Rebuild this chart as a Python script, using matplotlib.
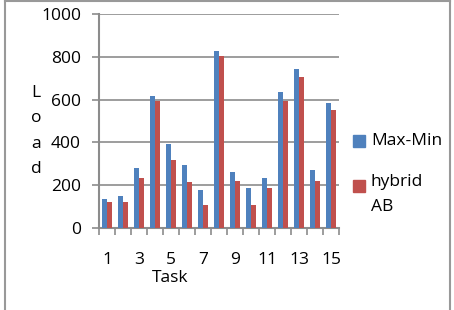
import numpy as np
import matplotlib.pyplot as plt
from matplotlib.lines import Line2D
from matplotlib.patches import Rectangle

tasks = list(range(1, 16))
max_min = [134, 148, 280, 618, 391, 296, 178, 826, 260, 187, 235, 636, 745, 270, 586]
hybrid_ab = [120, 123, 232, 593, 316, 213, 109, 805, 220, 107, 187, 593, 707, 220, 550]
yticks = [0, 200, 400, 600, 800, 1000]
series_names = ['Max-Min', 'hybrid\nAB']

plt.rcParams['font.family'] = ['Open Sans', 'DejaVu Sans']

W, H = 454, 310
fig = plt.figure(figsize=(W/100, H/100), dpi=100)
ax = fig.add_axes([99/W, 1-228/H, 240/W, 214/H])

x = np.arange(len(tasks))
w = 0.3
blue = '#4F81BD'
red = '#C0504D'
ax.bar(x - w/2, max_min, w, color=blue, zorder=3)
ax.bar(x + w/2, hybrid_ab, w, color=red, zorder=3)

ax.set_xlim(-0.5, len(tasks) - 0.5)
ax.set_ylim(0, 1000)
ax.set_yticks(yticks)
ax.yaxis.grid(True, color='#8c8c8c', linewidth=1.2)
ax.set_axisbelow(True)

# category labels on odd tasks only, tick marks between categories
ax.set_xticks(x[::2])
ax.set_xticklabels([str(t) for t in tasks[::2]], fontsize=12.5)
ax.tick_params(axis='x', which='major', length=0, pad=17)
ax.set_xticks(np.arange(-0.5, len(tasks)), minor=True)
ax.tick_params(axis='x', which='minor', length=5, color='#8c8c8c', width=1.2)
ax.tick_params(axis='y', length=5, color='#8c8c8c', width=1.2, labelsize=12.5, pad=8)

for s in ['top', 'right']:
    ax.spines[s].set_visible(False)
for s in ['left', 'bottom']:
    ax.spines[s].set_color('#8c8c8c')
    ax.spines[s].set_linewidth(1.5)

fig.text(170/W, 1-278/H, 'Task', fontsize=12.5, ha='center', va='center')
fig.text(36/W, 1-131/H, 'L\no\na\nd', fontsize=12.5, ha='center', va='center',
         linespacing=1.78)

# legend, Excel style
fig.add_artist(Rectangle((353/W, 1-147/H), 12/W, 12/H, color=blue, transform=fig.transFigure))
fig.text(371/W, 1-141/H, series_names[0], fontsize=12.5, va='center')
fig.add_artist(Rectangle((353/W, 1-192/H), 12/W, 12/H, color=red, transform=fig.transFigure))
fig.text(371/W, 1-174/H, series_names[1], fontsize=12.5, va='top', linespacing=1.75)

# chart border
fig.add_artist(Line2D([4.5/W, 4.5/W], [0, 1], color='#999999', linewidth=1.5))
fig.add_artist(Line2D([449.5/W, 449.5/W], [0, 1], color='#999999', linewidth=1.5))
fig.add_artist(Line2D([4.5/W, 449.5/W], [1-1/H, 1-1/H], color='#999999', linewidth=1.5))

fig.savefig('out.png', dpi=100)
